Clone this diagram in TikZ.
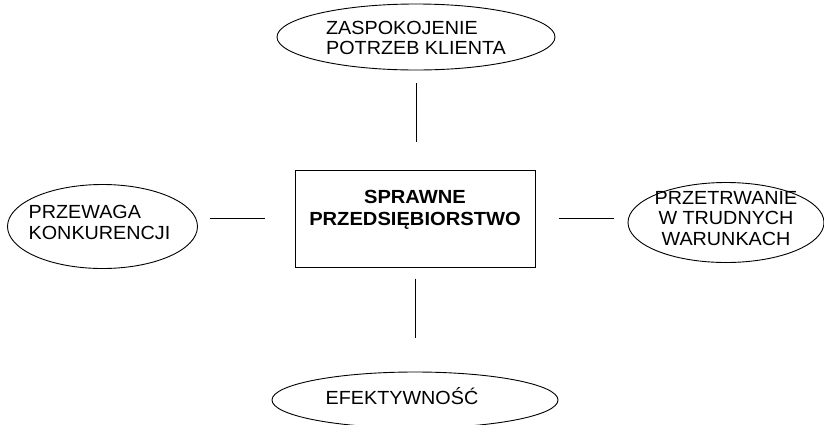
\documentclass[tikz,border=0pt]{standalone}
\usepackage{fontspec}
\setmainfont{Liberation Sans}[FakeStretch=1.04]
\newfontfamily\boldstretch{Liberation Sans Bold}[FakeStretch=1.06]
\usetikzlibrary{shapes.geometric}
\begin{document}
\begin{tikzpicture}[x=1pt,y=-1pt,
  oval/.style={draw=black,line width=0.9pt,ellipse,inner sep=0pt},
  lbl/.style={font=\fontsize{19}{20.5}\selectfont,inner sep=0pt},
  mainbox/.style={draw=black,line width=1pt,rectangle,inner sep=0pt,
    minimum width=240pt,minimum height=97pt},
  conn/.style={draw=black,line width=1pt}]
\useasboundingbox (0,0) rectangle (824,424);
\node[oval,minimum width=278pt,minimum height=66pt,
  label={[lbl,align=left,yshift=-1pt]center:ZASPOKOJENIE\\POTRZEB KLIENTA}] (top) at (416,37) {};
\node[oval,minimum width=190pt,minimum height=84pt,
  label={[lbl,align=left,xshift=-3pt,yshift=4pt]center:PRZEWAGA\\KONKURENCJI}] (left) at (102.5,226.5) {};
\node[oval,minimum width=196pt,minimum height=80pt,
  label={[lbl,align=center,yshift=4pt]center:PRZETRWANIE\\W TRUDNYCH\\WARUNKACH}] (right) at (726,222.5) {};
\node[oval,minimum width=286pt,minimum height=56pt,
  label={[lbl,xshift=-13pt,yshift=4pt]center:EFEKTYWNOŚĆ}] (bottom) at (415,400) {};
\node[mainbox,align=center,font=\boldstretch\fontsize{19}{22}\selectfont] (box) at (415,218.5)
  {SPRAWNE\\PRZEDSIĘBIORSTWO\\\mbox{}};
\draw[conn,shorten <=13pt,shorten >=28pt] (top.south) -- (top.south |- box.north);
\draw[conn,shorten <=11pt,shorten >=34pt] (box.south) -- (box.south |- bottom.north);
\draw[conn,shorten <=30pt,shorten >=12pt] (box.west) -- (box.west -| left.east);
\draw[conn,shorten <=23pt,shorten >=14pt] (box.east) -- (box.east -| right.west);
\end{tikzpicture}
\end{document}
